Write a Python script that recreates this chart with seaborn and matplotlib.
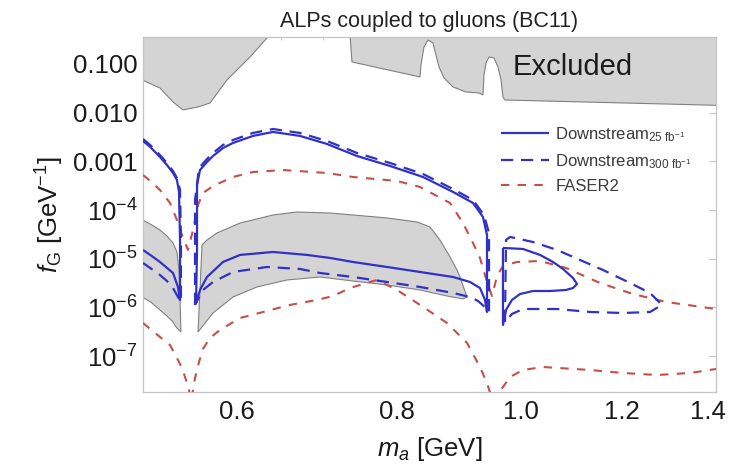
import matplotlib
matplotlib.use("Agg")
import matplotlib.pyplot as plt
import seaborn as sns
from matplotlib.ticker import FixedLocator, FixedFormatter, NullFormatter

# ---------------- ticks ----------------
x_ticks = [0.6, 0.8, 1.0, 1.2, 1.4]
x_tick_labels = ["0.6", "0.8", "1.0", "1.2", "1.4"]
x_minor = [0.55, 0.65, 0.7, 0.75, 0.85, 0.9, 0.95, 1.05, 1.1, 1.15, 1.25, 1.3, 1.35]
y_ticks = [1e-1, 1e-2, 1e-3, 1e-4, 1e-5, 1e-6, 1e-7]
y_tick_labels = ["0.100", "0.010", "0.001", r"$10^{-4}$", r"$10^{-5}$",
                 r"$10^{-6}$", r"$10^{-7}$"]

# ---------------- excluded regions (boundary, shaded towards large f_G) ----------------
excl_left_m = [0.505, 0.5224, 0.5348, 0.5445, 0.5594, 0.5716, 0.5893, 0.6142, 0.6333, 0.6367]
excl_left_f = [0.0480, 0.0321, 0.0166, 0.0114, 0.0131, 0.0158, 0.0469, 0.139, 0.342, 0.40]

excl_right_m = [0.7352, 0.7379, 0.8339, 0.8354, 0.8399, 0.8460, 0.8536, 0.8582, 0.8629,
                0.8707, 0.8849, 0.9058, 0.9273, 0.9339, 0.9356, 0.9390, 0.9441, 0.9526,
                0.9595, 0.9647, 0.9681, 0.9716, 1.45]
excl_right_f = [0.40, 0.110, 0.0541, 0.0953, 0.223, 0.311, 0.270, 0.153, 0.0867,
                0.0516, 0.0337, 0.0266, 0.0254, 0.0231, 0.0594, 0.105, 0.139, 0.133,
                0.0867, 0.0469, 0.0210, 0.0182, 0.0140]

# ---------------- shaded band at small f_G ----------------
band_left_m = [0.505, 0.5149, 0.5224, 0.5290, 0.5348, 0.5386, 0.5406, 0.5416, 0.5425,
               0.5377, 0.5348, 0.5290, 0.5224, 0.5149, 0.505]
band_left_f = [6.5e-5, 4.94e-5, 3.90e-5, 2.94e-5, 2.11e-5, 1.38e-5, 5.89e-6, 1.43e-6, 3.14e-7,
               3.98e-7, 5.04e-7, 6.69e-7, 8.88e-7, 1.24e-6, 1.70e-6]

band_mid_m = [0.5594, 0.5614, 0.5634, 0.5685, 0.5788, 0.6033, 0.6402, 0.6684, 0.7093, 0.7392,
              0.7858, 0.8294, 0.8490, 0.8644, 0.8801, 0.8913, 0.8961, 0.9075, 0.9009, 0.8754,
              0.8339, 0.7858, 0.7392, 0.6966, 0.6565, 0.6220, 0.5957, 0.5747]
band_mid_f = [3.14e-7, 2.29e-6, 1.92e-5, 2.43e-5, 3.39e-5, 5.43e-5, 7.93e-5, 9.14e-5, 8.71e-5, 7.93e-5,
              6.89e-5, 5.70e-5, 4.50e-5, 2.43e-5, 1.09e-5, 5.89e-6, 4.23e-6, 1.64e-6, 1.50e-6, 1.72e-6,
              2.29e-6, 2.90e-6, 3.50e-6, 4.23e-6, 3.67e-6, 2.64e-6, 1.64e-6, 7.71e-7]

# ---------------- Downstream, 25 fb^-1 (closed contours) ----------------
s25_a_m = [0.5067, 0.5133, 0.5224, 0.5290, 0.5348, 0.5386, 0.5406, 0.5416, 0.5416, 0.5396,
           0.5348, 0.5224, 0.5133, 0.5067]
s25_a_f = [2.62e-3, 1.98e-3, 1.23e-3, 8.44e-4, 5.78e-4, 4.15e-4, 2.36e-4, 2.43e-5, 1.43e-6, 2.64e-6,
           5.11e-6, 8.60e-6, 1.20e-5, 1.52e-5]

s25_b_m = [0.5574, 0.5584, 0.5584, 0.5584, 0.5614, 0.5685, 0.5747, 0.5851, 0.5957, 0.6175,
           0.6402, 0.6720, 0.7054, 0.7445, 0.7901, 0.8384, 0.8849, 0.9173, 0.9339, 0.9407,
           0.9407, 0.9407, 0.9373, 0.9289, 0.9124, 0.8849, 0.8339, 0.7858, 0.7392, 0.7093,
           0.6805, 0.6402, 0.6033, 0.5851, 0.5685, 0.5614, 0.5574]
s25_b_f = [1.24e-6, 1.52e-5, 1.61e-4, 3.27e-4, 6.65e-4, 9.73e-4, 1.29e-3, 1.88e-3, 2.39e-3, 3.33e-3,
           4.02e-3, 3.33e-3, 2.28e-3, 1.29e-3, 8.05e-4, 4.78e-4, 2.36e-4, 1.40e-4, 7.22e-5, 3.08e-5,
           3.67e-6, 8.09e-7, 1.43e-6, 2.51e-6, 3.34e-6, 4.23e-6, 5.36e-6, 6.79e-6, 8.60e-6, 1.04e-5,
           1.20e-5, 1.38e-5, 1.20e-5, 8.60e-6, 4.23e-6, 2.29e-6, 1.24e-6]

s25_c_m = [0.9681, 1.0036, 1.0348, 1.0593, 1.0785, 1.0980, 1.1060, 1.0980, 1.0843, 1.0536,
           1.0218, 0.9982, 0.9839, 0.9734, 0.9681, 0.9681]
s25_c_f = [1.67e-5, 1.59e-5, 1.20e-5, 8.60e-6, 6.18e-6, 4.04e-6, 3.04e-6, 2.51e-6, 2.29e-6, 2.18e-6,
           2.18e-6, 1.89e-6, 1.43e-6, 8.88e-7, 4.38e-7, 1.67e-5]

# ---------------- Downstream, 300 fb^-1 (closed contours) ----------------
d300_a_m = [0.5067, 0.5133, 0.5224, 0.5290, 0.5348, 0.5386, 0.5416, 0.5425, 0.5425, 0.5396,
            0.5348, 0.5290, 0.5224, 0.5133, 0.5067]
d300_a_f = [2.88e-3, 2.17e-3, 1.35e-3, 9.27e-4, 6.35e-4, 4.56e-4, 2.59e-4, 2.43e-5, 1.30e-6, 1.64e-6,
            2.51e-6, 3.50e-6, 4.65e-6, 6.48e-6, 8.20e-6]

d300_b_m = [0.5564, 0.5564, 0.5604, 0.5685, 0.5747, 0.5851, 0.5957, 0.6175, 0.6402, 0.6720,
            0.7054, 0.7445, 0.7901, 0.8384, 0.8849, 0.9173, 0.9356, 0.9441, 0.9441, 0.9390,
            0.9256, 0.9124, 0.8849, 0.8339, 0.7858, 0.7392, 0.6966, 0.6720, 0.6333, 0.5957,
            0.5747, 0.5644, 0.5564]
d300_b_f = [1.13e-6, 1.61e-4, 7.31e-4, 1.12e-3, 1.49e-3, 2.17e-3, 2.75e-3, 3.83e-3, 4.62e-3, 3.83e-3,
            2.62e-3, 1.49e-3, 9.27e-4, 5.51e-4, 2.71e-4, 1.61e-4, 7.93e-5, 3.39e-5, 8.09e-7, 9.77e-7,
            1.36e-6, 1.64e-6, 1.99e-6, 2.64e-6, 3.34e-6, 4.23e-6, 5.11e-6, 6.18e-6, 6.79e-6, 5.36e-6,
            3.34e-6, 2.29e-6, 1.13e-6]

d300_c_m = [0.9716, 0.9734, 0.9804, 1.0218, 1.0669, 1.1120, 1.1589, 1.2166, 1.2611, 1.2886,
            1.2611, 1.2014, 1.1321, 1.0669, 1.0036, 0.9839, 0.9716]
d300_c_f = [5.04e-7, 2.43e-5, 2.81e-5, 2.21e-5, 1.52e-5, 9.45e-6, 5.89e-6, 3.19e-6, 1.99e-6, 1.13e-6,
            8.09e-7, 7.71e-7, 8.09e-7, 9.31e-7, 9.31e-7, 7.36e-7, 5.04e-7]

# ---------------- FASER2 (upper and lower boundaries) ----------------
faser_up_m = [0.5067, 0.5133, 0.5224, 0.5319, 0.5386, 0.5435, 0.5494, 0.5544, 0.5594, 0.5644,
              0.5747, 0.5957, 0.6175, 0.6518, 0.7054, 0.7392, 0.8001, 0.8339, 0.8801, 0.9009,
              0.9173, 0.9289, 0.9407, 0.9492, 0.9578, 0.9681, 0.9928, 1.0348, 1.0843, 1.1527,
              1.2232, 1.2980, 1.4201]
faser_up_f = [5.26e-4, 3.96e-4, 2.59e-4, 1.40e-4, 6.26e-5, 3.08e-5, 1.52e-5, 3.90e-5, 1.27e-4, 2.24e-4,
              3.12e-4, 4.78e-4, 6.05e-4, 6.65e-4, 5.78e-4, 4.78e-4, 3.96e-4, 2.98e-4, 1.40e-4, 5.43e-5,
              2.11e-5, 1.04e-5, 3.34e-6, 1.72e-6, 4.43e-6, 7.11e-6, 8.60e-6, 9.01e-6, 6.48e-6, 3.19e-6,
              1.89e-6, 1.30e-6, 9.31e-7]

faser_lo_m = [0.5067, 0.5224, 0.5319, 0.5386, 0.5435, 0.5465, 0.5504, 0.5524, 0.5564, 0.5604,
              0.5644, 0.5716, 0.5819, 0.6033, 0.6333, 0.6600, 0.6929, 0.7131, 0.7352, 0.7622,
              0.7718, 0.8001, 0.8339, 0.8754, 0.9075, 0.9289, 0.9407, 0.9509, 0.9595, 0.9681,
              0.9804, 1.0036, 1.0404, 1.1321, 1.2014, 1.2771, 1.3553, 1.4201]
faser_lo_f = [4.81e-7, 2.48e-7, 1.70e-7, 9.18e-8, 5.73e-8, 3.74e-8, 2.02e-8, 1.15e-8, 3.57e-8, 7.60e-8,
              1.41e-7, 2.37e-7, 3.45e-7, 6.09e-7, 8.48e-7, 1.13e-6, 1.43e-6, 1.72e-6, 2.51e-6, 3.34e-6,
              3.67e-6, 2.29e-6, 1.13e-6, 4.81e-7, 1.87e-7, 6.00e-8, 2.82e-8, 1.15e-8, 1.76e-8, 2.33e-8,
              3.74e-8, 5.21e-8, 6.00e-8, 5.21e-8, 4.52e-8, 4.11e-8, 4.52e-8, 5.46e-8]

legend_labels = [r"Downstream$_{25\ \mathrm{fb}^{-1}}$",
                 r"Downstream$_{300\ \mathrm{fb}^{-1}}$",
                 "FASER2"]

# ---------------- style ----------------
sns.set_theme(style="white")
plt.rcParams["font.family"] = ["Liberation Sans", "DejaVu Sans"]
plt.rcParams["mathtext.fontset"] = "custom"
plt.rcParams["mathtext.rm"] = "Liberation Sans"
plt.rcParams["mathtext.it"] = "Liberation Sans:italic"
plt.rcParams["mathtext.bf"] = "Liberation Sans:bold"

BLUE = "#3131c6"
RED = "#c4504a"
GREY_FILL = "#d4d4d4"
GREY_EDGE = "#808080"
FRAME = "#c4c4c4"
TEXT = "#1a1a1a"

fig = plt.figure(figsize=(7.32, 4.66), dpi=100)
ax = fig.add_axes([143 / 732, 74 / 466, 573 / 732, 355 / 466])

TOP = 1.0
# shaded exclusion regions
ax.fill(excl_left_m + [excl_left_m[-1], excl_left_m[0]],
        excl_left_f + [TOP, TOP], facecolor=GREY_FILL, edgecolor=GREY_EDGE, lw=0.8, zorder=1)
ax.fill(excl_right_m + [excl_right_m[-1], excl_right_m[0]],
        excl_right_f + [TOP, TOP], facecolor=GREY_FILL, edgecolor=GREY_EDGE, lw=0.8, zorder=1)
ax.fill(band_left_m, band_left_f, facecolor=GREY_FILL, edgecolor=GREY_EDGE, lw=0.8, zorder=1)
ax.fill(band_mid_m, band_mid_f, facecolor=GREY_FILL, edgecolor=GREY_EDGE, lw=0.8, zorder=1)


def draw(m, f, color, ls, lw=1.6):
    sns.lineplot(x=m, y=f, ax=ax, sort=False, estimator=None, color=color,
                 linestyle=ls, linewidth=lw, legend=False, zorder=3)
    return ax.lines[-1]


solid = (0, ())
blue_dash = (0, (5.5, 3.5))
red_dash = (0, (4, 4))

h_red = draw(faser_up_m, faser_up_f, RED, red_dash, 1.5)
draw(faser_lo_m, faser_lo_f, RED, red_dash, 1.5)

h_s25 = draw(s25_a_m, s25_a_f, BLUE, solid)
draw(s25_b_m, s25_b_f, BLUE, solid)
draw(s25_c_m, s25_c_f, BLUE, solid)

h_d300 = draw(d300_a_m, d300_a_f, BLUE, blue_dash)
draw(d300_b_m, d300_b_f, BLUE, blue_dash)
draw(d300_c_m, d300_c_f, BLUE, blue_dash)

ax.set_xscale("log")
ax.set_yscale("log")
ax.set_xlim(0.5067, 1.4201)
ax.set_ylim(1.84e-8, 0.358)

ax.xaxis.set_major_locator(FixedLocator(x_ticks))
ax.xaxis.set_major_formatter(FixedFormatter(x_tick_labels))
ax.xaxis.set_minor_locator(FixedLocator(x_minor))
ax.xaxis.set_minor_formatter(NullFormatter())
ax.yaxis.set_major_locator(FixedLocator(y_ticks))
ax.yaxis.set_major_formatter(FixedFormatter(y_tick_labels))

ax.tick_params(axis="both", which="major", direction="in", length=5, width=0.8,
               color=FRAME, labelsize=18.5, labelcolor=TEXT)
ax.tick_params(axis="both", which="minor", direction="in", length=2.5, width=0.6, color=FRAME)
ax.tick_params(axis="x", which="major", pad=6)
ax.tick_params(axis="y", which="major", pad=4)
ax.tick_params(top=True, right=True, which="both")
for sp in ax.spines.values():
    sp.set_color(FRAME)
    sp.set_linewidth(0.9)

ax.set_xlabel(r"$m_a$ [GeV]", fontsize=18.5, color=TEXT, labelpad=8)
ax.set_ylabel(r"$f_{\mathrm{G}}$ [GeV$^{-1}$]", fontsize=18.5, color=TEXT, labelpad=5)
ax.set_title("ALPs coupled to gluons (BC11)", fontsize=15.5, color="#222222", pad=7)

ax.text(1.098, 0.087, "Excluded", fontsize=21, color=TEXT, ha="center", va="center", zorder=4)

leg = ax.legend(handles=[h_s25, h_d300, h_red], labels=legend_labels,
                loc="upper left", bbox_to_anchor=(0.625, 0.752), frameon=False,
                fontsize=12, handlelength=2.85, handletextpad=0.4, labelspacing=0.5,
                borderpad=0, borderaxespad=0)
for t in leg.get_texts():
    t.set_color("#3a3a3a")

fig.savefig("out.png", dpi=100, facecolor="white")
